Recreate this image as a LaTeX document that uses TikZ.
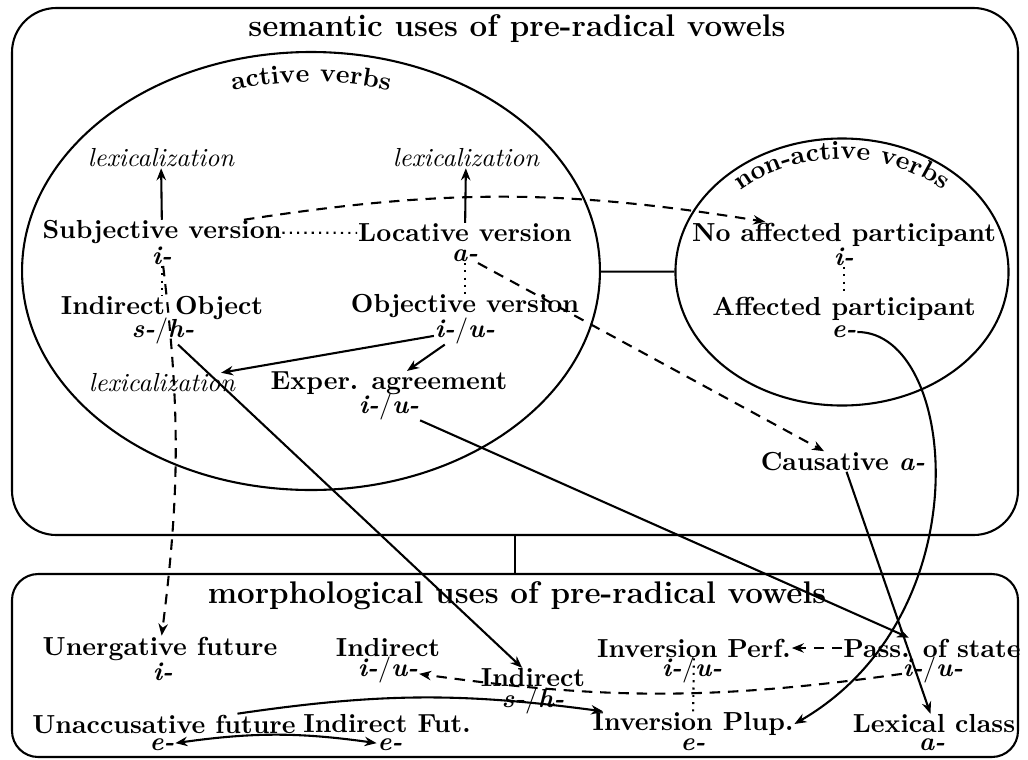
\documentclass[tikz,border=0pt]{standalone}
\usetikzlibrary{shapes.geometric,arrows.meta,decorations.text}
% upright, medium-weight slash between two alternative prefixes
\newcommand\orslash{{\mdseries\upshape/}}
\begin{document}
\begin{tikzpicture}[
  x=0.3831pt, y=-0.3831pt,
  line width=0.8pt,
  >={Stealth[length=4.6pt,width=3.6pt]},
  panel/.style={draw, inner sep=0pt},
  group/.style={draw, ellipse, inner sep=0pt},
  lbl/.style={inner sep=0pt, font=\bfseries},
  mrf/.style={inner sep=0pt, font=\bfseries\itshape},
  lexn/.style={inner sep=0pt, font=\itshape},
  ttl/.style={inner sep=0pt, anchor=base, font=\large\bfseries},
  dashline/.style={dash pattern=on 4pt off 3pt},
  dotline/.style={dotted},
  arcname/.style={decorate, decoration={text along path, text align=center, text={#1}}},
]
\useasboundingbox (0,0) rectangle (1028,759);

% the two panels
\node[panel, rounded corners=17pt, minimum width=385.4pt, minimum height=201.9pt] (sem) at (515,271.5) {};
\node[panel, rounded corners=10pt, minimum width=385.4pt, minimum height=70.1pt] (morph) at (515,665.5) {};
\draw (sem) -- (morph);

\node[ttl] (ttl1) at (517,36) {semantic uses of pre-radical vowels};
\node[ttl] (ttl2) at (517,603) {morphological uses of pre-radical vowels};

% verb groups
\node[group, minimum width=221.4pt, minimum height=167.8pt] (active) at (311,271) {};
\node[group, minimum width=127.6pt, minimum height=102.3pt] (nonactive) at (842,272) {};
\draw (active) -- (nonactive);

\path[arcname={|\bfseries|active verbs}]
  (311,271) ++(200:259 and 189) arc[start angle=200, end angle=340, x radius=259, y radius=189];
\path[arcname={|\bfseries|non-active verbs}]
  (842,272) ++(200:146 and 113) arc[start angle=200, end angle=340, x radius=146, y radius=113];

% semantic uses
\node[lexn] (lex1) at (161,158) {lexicalization};
\node[lexn] (lex2) at (466,158) {lexicalization};
\node[lbl] (subj) at (162,232.5) {Subjective version};
\node[mrf] (subjm) at (162,256) {i-};
\node[lbl] (loc) at (465,233) {Locative version};
\node[mrf] (locm) at (465,256) {a-};
\node[lbl] (io) at (162,308.5) {Indirect Object};
\node[mrf] (iom) at (163,330.5) {s-\orslash h-};
\node[lbl] (obj) at (465,306.5) {Objective version};
\node[mrf] (objm) at (465,330.5) {i-\orslash u-};
\node[lexn] (lex3) at (162,383) {lexicalization};
\node[lbl] (exp) at (389,383.5) {Exper. agreement};
\node[mrf] (expm) at (389,406.5) {i-\orslash u-};
\node[lbl] (noaff) at (844,234.5) {No affected participant};
\node[mrf] (noaffm) at (844,257) {i-};
\node[lbl] (aff) at (844,308.5) {Affected participant};
\node[mrf] (affm) at (844,332) {e-};
\node[lbl] (caus) at (843,461.5) {Causative \textit{a-}};

% morphological uses
\node[lbl] (unerg) at (160,648.5) {Unergative future};
\node[mrf] (unergm) at (163,671.5) {i-};
\node[lbl] (ind1) at (388,648) {Indirect};
\node[mrf] (ind1m) at (388,669.5) {i-\orslash u-};
\node[lbl] (ind2) at (533,678) {Indirect};
\node[mrf] (ind2m) at (533,700.5) {s-\orslash h-};
\node[lbl] (invperf) at (694,648) {Inversion Perf.};
\node[mrf] (invperfm) at (692,669.5) {i-\orslash u-};
\node[lbl] (pass) at (932,648) {Pass. of state};
\node[mrf] (passm) at (933,669.5) {i-\orslash u-};
\node[lbl] (unacc) at (164,724) {Unaccusative future};
\node[mrf] (unaccm) at (162,745) {e-};
\node[lbl] (indfut) at (387,724) {Indirect Fut.};
\node[mrf] (indfutm) at (390,745) {e-};
\node[lbl] (invplup) at (693,724) {Inversion Plup.};
\node[mrf] (invplupm) at (693,745) {e-};
\node[lbl] (lexcl) at (934,724) {Lexical class};
\node[mrf] (lexclm) at (932,745) {a-};

% connectors
\draw[->] (subj) -- (lex1);
\draw[->] (loc) -- (lex2);
\draw[dotline] (subj) -- (loc);
\draw[dashline, ->] (subj) to[bend left=9] (noaff);
\draw[dotline] (subjm) -- (io);
\draw[dashline, ->] (subjm) to[bend left=7] (unerg);
\draw[dotline] (locm) -- (obj);
\draw[dashline, ->] (locm) -- (caus);
\draw[->] (objm) -- (lex3);
\draw[->] (objm) -- (exp);
\draw[->] (iom) -- (ind2);
\draw[->] (expm) -- (pass);
\draw[dotline] (noaffm) -- (aff);
\draw[->] (caus) -- (lexcl);
\draw[->] (affm.east) .. controls +(100,0) and +(190,-110) .. (invplup.east);
\draw[dashline, ->] (pass) -- (invperf);
\draw[dashline, ->] (passm) to[bend left=8] (ind1m);
\draw[->] (unacc) to[bend left=8] (invplup);
\draw[<->] (unaccm) to[bend left=8] (indfutm);
\draw[dotline] (invperf) -- (invplup);
\end{tikzpicture}
\end{document}
